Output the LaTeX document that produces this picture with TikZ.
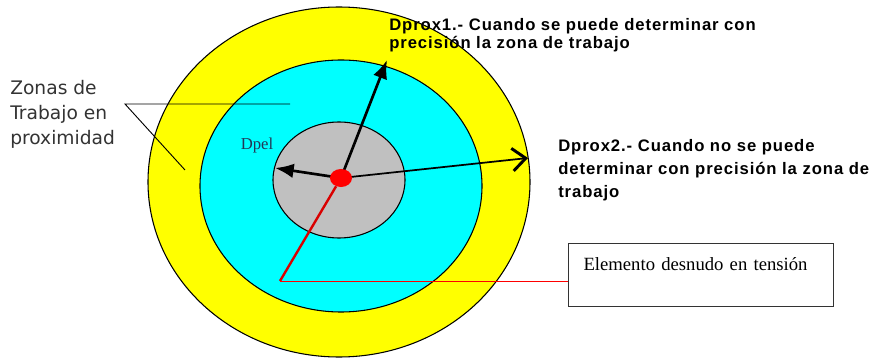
\documentclass[tikz,border=0pt]{standalone}
\usepackage{fontspec}
\setmainfont{Liberation Serif}
\setsansfont{Liberation Sans}
\newfontfamily\zonafont{DejaVu Sans}
\newfontfamily\notafont{Liberation Sans}[LetterSpace=5.5]
\usetikzlibrary{arrows.meta,shapes.geometric}
\definecolor{amarillo}{RGB}{255,255,0}
\definecolor{celeste}{RGB}{0,255,255}
\definecolor{grisclaro}{RGB}{192,192,192}
\definecolor{rojo}{RGB}{255,0,0}
\definecolor{tinta}{RGB}{35,55,85}
\tikzset{
  zona/.style={draw=black, line width=0.8pt},
  flecha/.style={line width=2pt, -{Latex[length=14pt,width=11pt]}},
  nota/.style={font=\notafont\bfseries\fontsize{12.5}{13.5}\selectfont, align=left, anchor=west, inner sep=0pt},
}

\begin{document}
\begin{tikzpicture}[x=75pt,y=75pt]
  % Fijar los margenes del dibujo
  \useasboundingbox (-3.40,-1.78) rectangle (5.37,1.82);

  % Dibujar las zonas alrededor del elemento
  \draw[zona, fill=amarillo] (-0.01,0) ellipse (1.91 and 1.75);
  \draw[zona, fill=celeste] (0.01,-0.04) ellipse (1.41 and 1.26);
  \draw[zona, fill=grisclaro] (-0.01,0.02) ellipse (0.66 and 0.58);

  % Coordenadas del elemento y de las distancias
  \coordinate (c) at (0.01,0.04);
  \coordinate (d1) at (0.47,1.22);
  \coordinate (d2) at (1.88,0.24);
  \coordinate (dp) at (-0.65,0.14);
  \coordinate (codo) at (-0.60,-0.99);

  % Flechas de las distancias
  \draw[flecha] (c) -- (d1);
  \draw[flecha] (c) -- (dp);
  \draw[line width=1.3pt, -{Straight Barb[length=10pt,width=17pt,line width=2.2pt]}] (c) -- (d2);

  % Elemento desnudo en tension
  \node[ellipse, fill=rojo, inner sep=0pt, minimum width=16.5pt, minimum height=13.5pt] (elem) at (c) {};

  % Etiquetas
  \node[font=\fontsize{12.5}{14}\selectfont, text=tinta] (dpel) at (-0.83,0.37) {Dpel};
  \node[nota] (dprox1) at (0.49,1.47) {Dprox1.- Cuando se puede determinar con\\precisión la zona de trabajo};
  \node[nota, font=\notafont\bfseries\fontsize{12.5}{17.25}\selectfont] (dprox2) at (2.18,0.12)
    {Dprox2.- Cuando no se puede\\determinar con precisión la zona de\\trabajo};

  % Zonas de trabajo en proximidad
  \node[font=\zonafont\fontsize{14}{18.75}\selectfont, text=black!80, align=left, anchor=west, inner sep=0pt] (zonas) at (-3.30,0.68) {Zonas de\\Trabajo en\\proximidad};
  \coordinate (vertice) at (-2.15,0.78);
  \coordinate (zc) at (-0.50,0.78);
  \coordinate (zy) at (-1.55,0.12);
  \draw[line width=0.7pt] (zc) -- (vertice) -- (zy);

  % Caja del elemento
  \node[draw=black!80, line width=0.8pt, anchor=north west, minimum width=198.75pt, minimum height=47.25pt,
        text width=176.25pt, inner xsep=11.25pt, align=left, font=\fontsize{14}{17}\selectfont]
        (caja) at (2.28,-0.61) {Elemento desnudo en tensión\\~};
  \draw[rojo!85!black, line width=1.8pt] (elem) -- (codo);
  \draw[rojo, line width=0.7pt] (codo) -- (codo -| caja.west);

\end{tikzpicture}
\end{document}
